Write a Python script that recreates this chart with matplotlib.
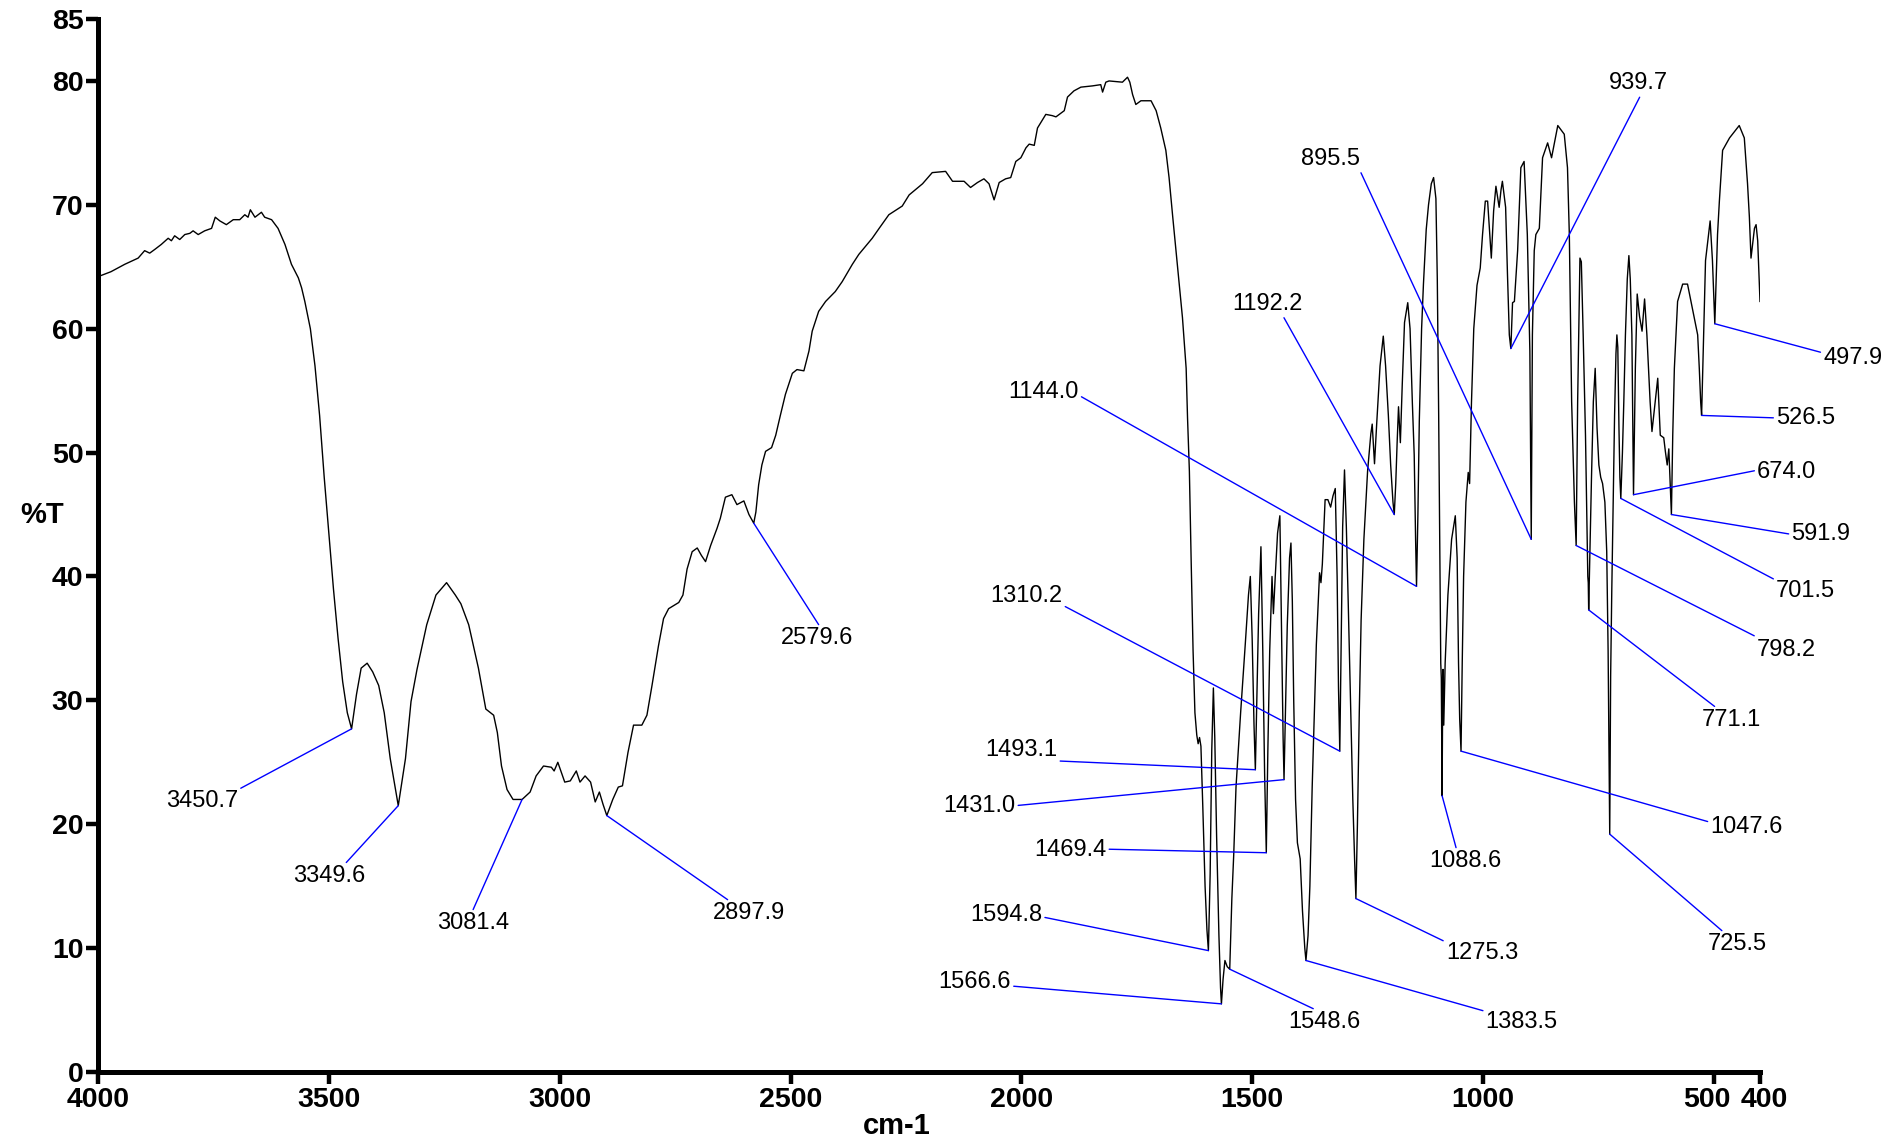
#----------------------------------import built-in modules-----------------------------------------
import matplotlib
matplotlib.use('Agg')
import matplotlib.pyplot as plt
import matplotlib.transforms as mtransforms

plt.rcParams['font.family'] = ['Liberation Sans', 'DejaVu Sans']

#------------------------------------spectrum----------------------------------
wavenumber = [
    4000, 3972, 3942, 3913, 3899, 3888, 3877, 3863, 3848, 3841, 3834, 3823, 3812, 3801, 3794,
    3783, 3769, 3754, 3746, 3736, 3722, 3707, 3693, 3682, 3675, 3670, 3660, 3646, 3639, 3624,
    3610, 3595, 3581, 3566, 3559, 3552, 3540, 3530, 3520, 3510, 3500, 3490, 3480, 3470, 3460,
    3450.7, 3440, 3430, 3417, 3405, 3392, 3380, 3367, 3349.6, 3334, 3322, 3309, 3288, 3268,
    3245, 3226, 3214, 3197, 3176, 3160, 3143, 3135, 3126, 3114, 3101, 3081.4, 3064, 3051, 3035,
    3018, 3012, 3004, 2989, 2977, 2964, 2956, 2945, 2933, 2923, 2914, 2906, 2897.9, 2885, 2873,
    2864, 2852, 2840, 2822, 2811, 2800, 2786, 2775, 2764, 2742, 2733, 2724, 2713, 2702, 2693,
    2684, 2673, 2659, 2652, 2641, 2627, 2616, 2601, 2590, 2579.6, 2575, 2569, 2562, 2554, 2541,
    2532, 2522, 2511, 2496, 2486, 2471, 2460, 2453, 2439, 2424, 2403, 2388, 2366, 2352, 2323,
    2308, 2287, 2258, 2243, 2214, 2193, 2164, 2149, 2124, 2110, 2095, 2081, 2070, 2059, 2048,
    2034, 2023, 2012, 2001, 1990, 1983, 1972, 1965, 1947, 1933, 1925, 1907, 1900, 1886, 1871,
    1846, 1828, 1824, 1817, 1810, 1781, 1770, 1765, 1759, 1752, 1741, 1719, 1708, 1698, 1687,
    1680, 1672, 1665, 1658, 1651, 1643, 1640, 1636, 1632, 1628, 1624, 1620, 1617, 1614, 1611,
    1607, 1602, 1598, 1594.8, 1591, 1587.5, 1584, 1581, 1577, 1572, 1568.5, 1566.6, 1563, 1559,
    1554, 1548.6, 1544, 1540, 1535, 1525, 1515, 1508, 1504, 1500, 1496, 1493.1, 1490, 1486,
    1481, 1477, 1473, 1469.4, 1466, 1462, 1457, 1454, 1450, 1445, 1440, 1436, 1433, 1431.0,
    1428, 1424, 1419, 1416, 1413, 1410, 1406, 1402, 1396, 1391, 1386, 1383.5, 1379, 1375, 1370,
    1361, 1354, 1351, 1348, 1342, 1336, 1330, 1325, 1320, 1316, 1313, 1310.2, 1307, 1304, 1300,
    1296, 1292, 1287, 1282, 1278, 1275.3, 1272, 1268, 1264, 1258, 1250, 1243, 1240, 1235, 1230,
    1223, 1216, 1211, 1205, 1200, 1195, 1192.2, 1189, 1186, 1183, 1179, 1175, 1170, 1163, 1158,
    1153, 1149, 1146, 1144.0, 1141, 1138, 1133, 1129, 1123, 1118, 1112, 1107, 1102, 1099, 1096,
    1093, 1091.5, 1090.3, 1088.6, 1087.5, 1086.5, 1085, 1082, 1076, 1068, 1060, 1056, 1053,
    1050.5, 1047.6, 1045, 1042, 1037, 1032, 1029, 1025, 1020, 1013, 1006, 1001, 995, 990, 986,
    982, 977, 972, 968, 965, 961, 958, 955, 951, 947, 943, 939.7, 936, 932, 925, 918, 911, 904,
    898.5, 895.5, 893, 889, 885.5, 878, 871, 860, 851.5, 838, 824, 817, 813, 808, 802, 798.2,
    795, 790, 787, 783, 778, 775, 773, 772, 771.1, 769, 765, 761, 757, 753, 749, 745, 741, 736,
    732, 729, 727, 725.5, 723.5, 721, 718, 715, 712, 710, 708, 705.5, 703.5, 701.5, 698, 695,
    691.5, 687.5, 684, 681, 677.5, 675.5, 674.0, 670, 666, 661, 655.5, 650, 645, 638, 634, 627,
    621.5, 616, 608.5, 605, 601, 597.5, 594, 591.9, 589, 585.5, 578.5, 567.5, 557, 549.5, 535,
    531.5, 528.5, 526.5, 522, 518, 508, 503, 497.9, 492, 488, 481, 466, 445, 434, 427, 423,
    419.5, 412, 408.5, 405, 400]

transmittance = [
    64.2, 64.6, 65.2, 65.7, 66.3, 66.1, 66.4, 66.8, 67.3, 67.1, 67.5, 67.2, 67.6, 67.7, 67.9,
    67.6, 67.9, 68.1, 69.0, 68.7, 68.4, 68.8, 68.8, 69.2, 69.0, 69.6, 69.0, 69.4, 69.0, 68.8,
    68.1, 66.8, 65.2, 64.1, 63.3, 62.2, 60.0, 57.0, 53.0, 48.0, 43.5, 39.0, 35.0, 31.5, 29.0,
    27.7, 30.5, 32.6, 33.0, 32.3, 31.2, 29.0, 25.3, 21.5, 25.3, 29.9, 32.5, 36.1, 38.5,
    39.5, 38.5, 37.8, 36.1, 32.6, 29.3, 28.8, 27.4, 24.7, 22.8, 22.0, 22.0, 22.6, 23.9, 24.7,
    24.6, 24.3, 25.0, 23.4, 23.5, 24.3, 23.4, 23.9, 23.4, 21.8, 22.6, 21.6, 20.7, 22.0, 23.0,
    23.1, 25.8, 28.0, 28.0, 28.8, 31.2, 34.4, 36.6, 37.4, 37.9, 38.5, 40.6, 42.0, 42.3, 41.7,
    41.2, 42.5, 43.9, 44.7, 46.4, 46.6, 45.8, 46.1, 45.0, 44.3, 45.2, 47.4, 49.0, 50.1, 50.4,
    51.4, 53.0, 54.7, 56.4, 56.7, 56.6, 58.2, 59.8, 61.4, 62.2, 63.0, 63.8, 65.2, 66.0, 67.3,
    68.1, 69.2, 69.9, 70.8, 71.7, 72.6, 72.7, 71.9, 71.9, 71.4, 71.8, 72.1, 71.7, 70.4, 71.8,
    72.1, 72.2, 73.5, 73.8, 74.6, 74.9, 74.8, 76.2, 77.3, 77.2, 77.1, 77.6, 78.7, 79.2, 79.5,
    79.6, 79.7, 79.1, 79.9, 80.0, 79.9, 80.3, 79.9, 78.9, 78.1, 78.4, 78.4, 77.6, 76.2, 74.4,
    72.2, 69.0, 66.3, 63.6, 60.9, 56.8, 52.8, 48.5, 41.0, 34.0, 29.0, 27.2, 26.5, 27.0, 26.3,
    21.5, 15.0, 11.5, 9.8, 16.0, 26.0, 31.0, 27.0, 19.0, 11.0, 6.8, 5.5, 7.5, 9.0,
    8.5, 8.3, 14.0, 17.5, 23.0, 29.0, 34.5, 38.5, 40.0, 35.0, 28.0, 24.4, 30.0, 37.0,
    42.4, 34.0, 24.0, 17.7, 26.0, 34.0, 40.0, 37.0, 40.0, 43.5, 44.9, 35.0, 27.0, 23.6,
    29.0, 36.0, 41.5, 42.7, 38.0, 30.0, 22.0, 18.5, 17.2, 13.0, 10.0, 9.0, 11.0, 15.0, 23.0,
    34.5, 40.3, 39.5, 41.0, 46.2, 46.2, 45.6, 46.5, 47.1, 40.0, 31.0, 25.9, 35.0, 44.0, 48.6,
    44.0, 38.0, 30.0, 22.0, 17.0, 14.0, 20.0, 29.0, 36.5, 43.0, 48.5, 51.5, 52.3, 49.1, 52.5,
    57.0, 59.4, 57.0, 53.0, 49.0, 46.0, 45.0, 47.5, 50.8, 53.7, 50.8, 55.4, 60.5, 62.1, 60.0,
    54.0, 49.8, 43.0, 39.2, 45.0, 52.5, 60.0, 63.6, 68.0, 70.0, 71.7, 72.2, 70.5, 64.0, 53.0,
    40.0, 33.0, 31.8, 22.3, 29.5, 32.5, 28.0, 33.0, 38.5, 43.0, 44.9, 41.5, 33.0,
    28.5, 25.9, 33.0, 40.0, 46.0, 48.4, 47.5, 54.0, 60.0, 63.5, 64.9, 67.6, 70.3, 70.3, 68.0,
    65.7, 69.5, 71.5, 70.5, 69.8, 71.2, 71.9, 71.0, 69.8, 64.4, 59.5, 58.4, 62.1, 62.2, 66.3, 73.0, 73.5, 67.6,
    58.2, 43.0, 59.5, 66.3, 67.6, 68.1, 73.8, 75.0, 73.8, 76.4, 75.7, 73.0, 67.6, 54.1, 46.0, 42.5,
    54.1, 65.7, 65.4, 59.5, 51.4, 44.5, 40.0, 39.5, 37.3, 41.0, 48.0, 54.1, 56.8, 52.0, 49.0, 48.0, 47.5, 46.0,
    42.0, 34.0, 26.0, 19.2, 32.0, 39.0, 46.0, 53.0, 58.0, 59.5, 58.5, 52.0, 48.0, 46.3, 50.0, 54.1,
    59.5, 64.0, 65.9, 64.0, 59.5, 52.0, 46.6, 56.8, 62.8, 61.0, 59.8, 62.4, 59.5, 54.1, 51.7, 54.1,
    56.0, 51.4, 51.2, 50.1, 49.0, 50.3, 47.0, 45.0, 51.4, 56.8, 62.2, 63.6, 63.6, 62.2, 59.5,
    56.8, 54.1, 53.0, 59.5, 65.5, 68.7, 65.5, 60.4, 67.6, 70.3, 74.4, 75.4, 76.4, 75.4, 71.7, 69.0,
    65.7, 68.1, 68.4, 67.1, 62.2]

#------------------------------------picked peaks------------------------------------------------
peak_labels = ['3450.7', '3349.6', '3081.4', '2897.9', '2579.6', '1594.8', '1566.6', '1548.6',
               '1493.1', '1469.4', '1431.0', '1383.5', '1310.2', '1275.3', '1192.2', '1144.0',
               '1088.6', '1047.6', '939.7', '895.5', '798.2', '771.1', '725.5', '701.5',
               '674.0', '591.9', '526.5', '497.9']
peak_t = [27.7, 21.5, 22.0, 20.7, 44.3, 9.8, 5.5, 8.3,
          24.4, 17.7, 23.6, 9.0, 25.9, 14.0, 45.0, 39.2,
          22.3, 25.9, 58.4, 43.0, 42.5, 37.3, 19.2, 46.3,
          46.6, 45.0, 53.0, 60.4]

x_ticks = [4000, 3500, 3000, 2500, 2000, 1500, 1000, 500, 400]
y_ticks = [0, 10, 20, 30, 40, 50, 60, 70, 80, 85]

# where each label sits (wavenumber, %T of its centre) and where its leader leaves the text
label_place = {
    '3450.7': (3775, 22.1, 1.0, 1.0), '3349.6': (3499, 16.0, 0.7, 1.0),
    '3081.4': (3187, 12.2, 0.48, 1.0), '2897.9': (2590, 13.0, 0.26, 1.0),
    '2579.6': (2443, 35.2, 0.55, 1.0), '1594.8': (2033, 12.9, 1.0, 0.4),
    '1566.6': (2101, 7.5, 1.0, 0.3), '1548.6': (1344, 4.2, 0.43, 1.0),
    '1493.1': (2000, 26.2, 1.0, 0.0), '1469.4': (1894, 18.1, 1.0, 0.55),
    '1431.0': (2091, 21.7, 1.0, 0.5), '1383.5': (916, 4.2, 0.0, 1.0),
    '1310.2': (1989, 38.6, 1.0, 0.1), '1275.3': (1002, 9.8, 0.0, 1.0),
    '1192.2': (1468, 62.2, 0.72, 0.0), '1144.0': (1952, 55.1, 1.0, 0.35),
    '1088.6': (1038, 17.2, 0.38, 1.0), '1047.6': (429, 20.0, 0.0, 0.7),
    '939.7': (664, 80.0, 0.55, 0.0), '895.5': (1331, 73.9, 1.0, 0.0),
    '798.2': (343, 34.3, 0.05, 1.0), '771.1': (461, 28.6, 0.27, 1.0),
    '725.5': (450, 10.5, 0.3, 1.0), '701.5': (301, 39.0, 0.0, 1.0),
    '674.0': (342, 48.6, 0.0, 0.6), '591.9': (268, 43.6, 0.0, 0.5),
    '526.5': (301, 53.0, 0.0, 0.5), '497.9': (199, 57.8, 0.0, 0.75),
}

fig = plt.figure(figsize=(18.88, 11.39), dpi=100)
ax = fig.add_axes([98 / 1888, 1 - 1072 / 1139, (1760 - 98) / 1888, (1072 - 19) / 1139])

ax.plot(wavenumber, transmittance, color='black', lw=1.0)

for lab, t in zip(peak_labels, peak_t):
    tx, ty, rx, ry = label_place[lab]
    ax.annotate(lab, xy=(float(lab), t), xytext=(tx, ty), textcoords='data',
                ha='center', va='center_baseline', fontsize=17, color='black',
                annotation_clip=False,
                arrowprops=dict(arrowstyle='-', color='blue', lw=1.0,
                                shrinkA=0, shrinkB=0, relpos=(rx, ry)))

ax.set_xlim(4000, 400)
ax.set_ylim(0, 85)
ax.set_xticks(x_ticks)
ax.set_yticks(y_ticks)
ax.spines['top'].set_visible(False)
ax.spines['right'].set_visible(False)
ax.spines['left'].set_linewidth(3.6)
ax.spines['bottom'].set_linewidth(3.6)
ax.tick_params(width=3.2, length=8.5, labelsize=20.5, pad=2)
for lab in ax.get_xticklabels() + ax.get_yticklabels():
    lab.set_fontweight('bold')

# 500 and 400 sit close together: nudge them apart as in the original
nudge = {500: -7, 400: 4}
for tick in ax.xaxis.get_major_ticks():
    if tick.get_loc() in nudge:
        dx = nudge[tick.get_loc()] / 100.0
        tick.label1.set_transform(tick.label1.get_transform() +
                                  mtransforms.ScaledTranslation(dx, 0, fig.dpi_scale_trans))

fig.text(42 / 1888, 1 - 515 / 1139, '%T', fontsize=21, fontweight='bold', ha='center', va='center')
fig.text(897 / 1888, 1 - 1126 / 1139, 'cm-1', fontsize=21, fontweight='bold', ha='center', va='center')

fig.savefig('out.png', dpi=100)
